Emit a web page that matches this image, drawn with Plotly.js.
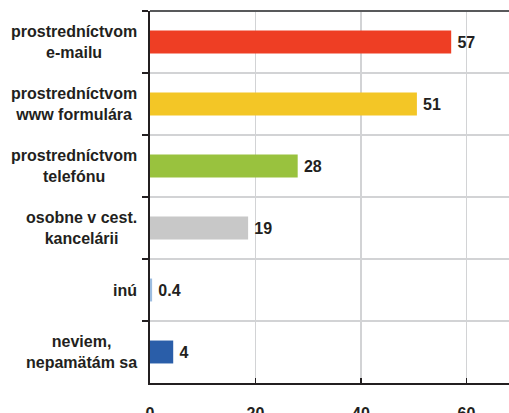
<!DOCTYPE html>
<html>
<head>
<meta charset="utf-8">
<script src="https://cdn.plot.ly/plotly-3.0.1.min.js"></script>
<style>
  html, body { margin: 0; padding: 0; background: #fff; }
  #chart { width: 509px; height: 413px; }
</style>
</head>
<body>
<div id="chart"></div>
<script>
// answer categories (top to bottom)
const categories = [
    'prostredníctvom<br>e-mailu',
    'prostredníctvom<br>www formulára',
    'prostredníctvom<br>telefónu',
    'osobne v cest.<br>kancelárii',
    'inú',
    'neviem,<br>nepamätám sa'
];
// bar lengths, labels as printed
const values = [57.1, 50.6, 28, 18.6, 0.4, 4.4];
const valueLabels = ['57', '51', '28', '19', '0.4', '4'];
const barColors = ['#ee3e24', '#f3c626', '#99c23e', '#c8c8c8', '#9dbde0', '#2a5ea9'];
const xTicks = [0, 20, 40, 60];

const fontFamily = '"Liberation Sans", Arial, Helvetica, sans-serif';
const textColor = '#231f20';

const trace = {
    type: 'bar',
    orientation: 'h',
    y: categories,
    x: values,
    // thin space gives a slightly wider gap after the bar
    text: valueLabels.map(t => '\u2009' + t),
    textposition: 'outside',
    cliponaxis: false,
    textfont: { family: fontFamily, size: 16, color: textColor, weight: 'bold' },
    marker: { color: barColors },
    hoverinfo: 'none'
};

// category labels drawn as annotations so the lines are centred
const labelAnnotations = categories.map(c => ({
    xref: 'paper', yref: 'y',
    x: -0.03, y: c,
    xanchor: 'right', yanchor: 'middle',
    align: 'center',
    text: c,
    showarrow: false,
    font: { family: fontFamily, size: 16, color: textColor, weight: 'bold' }
}));

const layout = {
    width: 509,
    height: 413,
    margin: { l: 150, r: 0, t: 11, b: 30 },
    paper_bgcolor: '#fff',
    plot_bgcolor: '#fff',
    showlegend: false,
    bargap: 0.63,
    font: { family: fontFamily, size: 16, color: textColor },
    xaxis: {
        range: [0, 68.06],
        tickvals: xTicks,
        ticktext: xTicks.map(String),
        ticks: 'inside',
        ticklen: 5,
        tickwidth: 1.5,
        tickcolor: textColor,
        showline: true,
        linecolor: textColor,
        linewidth: 2,
        showgrid: true,
        gridcolor: '#d2d3d5',
        gridwidth: 1.5,
        zeroline: false,
        ticklabelstandoff: 15,
        tickfont: { family: fontFamily, size: 16, color: textColor, weight: 'bold' },
        fixedrange: true
    },
    yaxis: {
        type: 'category',
        autorange: 'reversed',
        tickson: 'boundaries',
        ticks: 'outside',
        ticklen: 6,
        tickwidth: 1.5,
        tickcolor: textColor,
        showticklabels: false,
        showline: true,
        linecolor: textColor,
        linewidth: 2,
        showgrid: true,
        gridcolor: '#d2d3d5',
        gridwidth: 1.5,
        zeroline: false,
        fixedrange: true
    },
    annotations: labelAnnotations,
    shapes: [{
        type: 'line', xref: 'paper', yref: 'paper',
        x0: 0, x1: 1, y0: 1, y1: 1,
        line: { color: '#58595b', width: 2 }
    }]
};

Plotly.newPlot('chart', [trace], layout, { displayModeBar: false, staticPlot: true });
</script>
</body>
</html>
